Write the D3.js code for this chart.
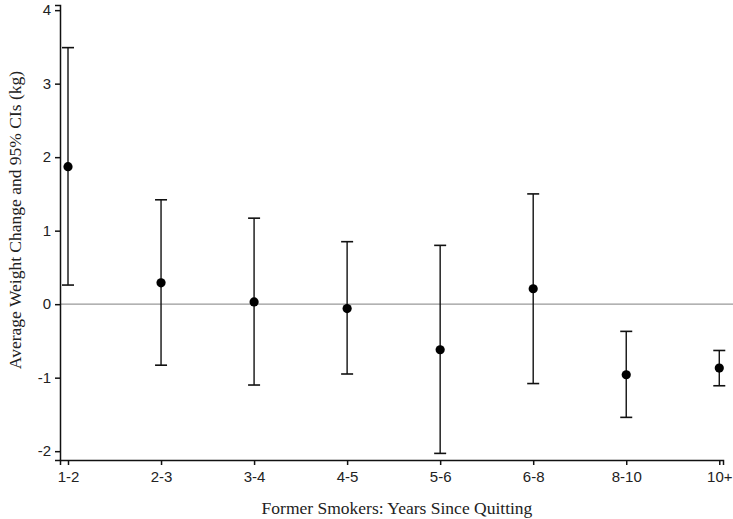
<!DOCTYPE html>
<html>
<head>
<meta charset="utf-8">
<script src="https://cdn.jsdelivr.net/npm/d3@7"></script>
<style>
  body { margin: 0; background: #fff; }
  .tick text { font-family: "Liberation Sans", Arial, sans-serif; font-size: 15px; fill: #222; }
  .title { font-family: "Liberation Serif", "Times New Roman", serif; font-size: 17.5px; fill: #222; }
</style>
</head>
<body>
<div id="chart"></div>
<script>
/* categories and estimates */
var categories = ['1-2', '2-3', '3-4', '4-5', '5-6', '6-8', '8-10', '10+'];
var estimate = [1.87, 0.29, 0.03, -0.06, -0.62, 0.21, -0.96, -0.87];
var upper = [3.49, 1.42, 1.17, 0.85, 0.80, 1.50, -0.37, -0.63];
var lower = [0.26, -0.83, -1.10, -0.95, -2.03, -1.08, -1.54, -1.11];
var yTicks = [-2, -1, 0, 1, 2, 3, 4];

var width = 733, height = 519;

var svg = d3.select('#chart').append('svg')
  .attr('width', width)
  .attr('height', height);

var x = d3.scaleLinear()
  .domain([-0.086, 7.04])
  .range([60, 723]);

var y = d3.scaleLinear()
  .domain([-2.12, 4.07])
  .range([460, 5]);

// zero line
svg.append('line')
  .attr('x1', 60).attr('x2', width)
  .attr('y1', y(0)).attr('y2', y(0))
  .attr('stroke', '#999')
  .attr('stroke-width', 1.2);

var yAxis = svg.append('g')
  .attr('transform', 'translate(60,0)')
  .call(d3.axisLeft(y).tickValues(yTicks).tickSize(5).tickPadding(4)
    .tickFormat(function(d) { return String(d); }));

var xAxis = svg.append('g')
  .attr('transform', 'translate(0,460)')
  .call(d3.axisBottom(x).tickValues(d3.range(categories.length)).tickSize(5).tickPadding(6)
    .tickFormat(function(i) { return categories[i]; }));

[yAxis, xAxis].forEach(function(a) {
  a.select('.domain').attr('stroke', '#111').attr('stroke-width', 1.5);
  a.selectAll('.tick line').attr('stroke', '#111').attr('stroke-width', 1.5);
});

var pts = categories.map(function(c, i) {
  return { i: i, est: estimate[i], hi: upper[i], lo: lower[i] };
});

var g = svg.append('g');
var capW = 6;

g.selectAll('.ci').data(pts).enter()
  .append('line')
  .attr('x1', function(d) { return x(d.i); })
  .attr('x2', function(d) { return x(d.i); })
  .attr('y1', function(d) { return y(d.hi); })
  .attr('y2', function(d) { return y(d.lo); })
  .attr('stroke', '#111').attr('stroke-width', 1.4);

g.selectAll('.capHi').data(pts).enter()
  .append('line')
  .attr('x1', function(d) { return x(d.i) - capW; })
  .attr('x2', function(d) { return x(d.i) + capW; })
  .attr('y1', function(d) { return y(d.hi); })
  .attr('y2', function(d) { return y(d.hi); })
  .attr('stroke', '#111').attr('stroke-width', 1.6);

g.selectAll('.capLo').data(pts).enter()
  .append('line')
  .attr('x1', function(d) { return x(d.i) - capW; })
  .attr('x2', function(d) { return x(d.i) + capW; })
  .attr('y1', function(d) { return y(d.lo); })
  .attr('y2', function(d) { return y(d.lo); })
  .attr('stroke', '#111').attr('stroke-width', 1.6);

g.selectAll('circle').data(pts).enter()
  .append('circle')
  .attr('cx', function(d) { return x(d.i); })
  .attr('cy', function(d) { return y(d.est); })
  .attr('r', 4.6)
  .attr('fill', '#000');

svg.append('text')
  .attr('class', 'title')
  .attr('transform', 'translate(21,220) rotate(-90)')
  .attr('text-anchor', 'middle')
  .text('Average Weight Change and 95% CIs (kg)');

svg.append('text')
  .attr('class', 'title')
  .attr('x', 397).attr('y', 514)
  .attr('text-anchor', 'middle')
  .text('Former Smokers: Years Since Quitting');
</script>
</body>
</html>
